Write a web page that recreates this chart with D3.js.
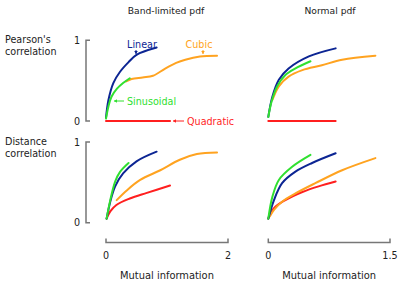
<!DOCTYPE html>
<html><head><meta charset="utf-8">
<script src="https://cdn.jsdelivr.net/npm/d3@7"></script>
<style>body{margin:0;background:#fff}svg{display:block}text{font-family:"DejaVu Sans",Verdana,sans-serif;font-size:9.6px;fill:#222}</style>
</head><body>
<script>
const colTitles = ["Band-limited pdf", "Normal pdf"];
const rowTitles = [["Pearson's", "correlation"], ["Distance", "correlation"]];
const xMaxes = [2, 1.5];
const xTickLabels = [["0", "2"], ["0", "1.5"]];
const yTickLabels = ["0", "1"];
const seriesNames = ["Linear", "Cubic", "Sinusoidal", "Quadratic"];
const seriesColors = ["#0c2593", "#ffa320", "#30e030", "#ff1f1f"];

// series -> [[mutual information, correlation], ...]
const pearsonBand = {
  Linear: [[0,0.04],[0.04,0.26],[0.12,0.47],[0.23,0.61],[0.37,0.73],[0.5,0.82],[0.83,0.91]],
  Cubic: [[0.33,0.49],[0.42,0.52],[0.6,0.54],[0.77,0.56],[0.97,0.65],[1.15,0.72],[1.3,0.76],[1.54,0.8],[1.82,0.81]],
  Sinusoidal: [[0,0.03],[0.04,0.18],[0.09,0.3],[0.18,0.4],[0.28,0.47],[0.39,0.53]],
  Quadratic: [[0,0],[1.05,0]]
};
const pearsonNormal = {
  Linear: [[0,0.05],[0.05,0.3],[0.13,0.51],[0.25,0.65],[0.5,0.8],[0.83,0.9]],
  Cubic: [[0.05,0.26],[0.13,0.43],[0.25,0.55],[0.42,0.63],[0.66,0.69],[0.91,0.76],[1.32,0.81]],
  Sinusoidal: [[0,0.05],[0.04,0.24],[0.11,0.43],[0.21,0.57],[0.33,0.65],[0.52,0.74]],
  Quadratic: [[0,0],[0.83,0]]
};
const distanceBand = {
  Linear: [[0.01,0.05],[0.07,0.26],[0.15,0.45],[0.28,0.61],[0.5,0.76],[0.83,0.88]],
  Cubic: [[0.175,0.28],[0.34,0.4],[0.56,0.53],[0.89,0.65],[1.21,0.78],[1.49,0.85],[1.82,0.87]],
  Sinusoidal: [[0.01,0.05],[0.07,0.28],[0.15,0.51],[0.23,0.63],[0.37,0.74]],
  Quadratic: [[0.01,0.05],[0.07,0.14],[0.17,0.22],[0.39,0.3],[0.67,0.37],[1.05,0.46]]
};
const distanceNormal = {
  Linear: [[0,0.05],[0.07,0.28],[0.17,0.49],[0.33,0.63],[0.54,0.74],[0.83,0.86]],
  Cubic: [[0.02,0.08],[0.07,0.16],[0.17,0.26],[0.33,0.36],[0.58,0.49],[0.91,0.65],[1.32,0.8]],
  Sinusoidal: [[0,0.05],[0.05,0.32],[0.13,0.53],[0.29,0.69],[0.52,0.84]],
  Quadratic: [[0,0.05],[0.07,0.18],[0.21,0.28],[0.42,0.38],[0.62,0.45],[0.83,0.51]]
};
const panels = [[pearsonBand, pearsonNormal],[distanceBand, distanceNormal]];
const drawOrder = ["Quadratic","Cubic","Linear","Sinusoidal"];

const W = 415, H = 284;
const svg = d3.select("body").append("svg").attr("width", W).attr("height", H);

const xRanges = [[106, 228], [268.3, 390]];
const yRanges = [[121, 40.3], [222.7, 142]];
const xs = xRanges.map((r,i) => d3.scaleLinear().domain([0, xMaxes[i]]).range(r));
const ys = yRanges.map(r => d3.scaleLinear().domain([0, 1]).range(r));
const color = d3.scaleOrdinal().domain(seriesNames).range(seriesColors);

colTitles.forEach((t,i) => {
  svg.append("text").attr("x", i===0 ? 166 : 330).attr("y", 14)
    .attr("text-anchor","middle").style("font-size","9.2px").text(t);
});
rowTitles.forEach((lines, r) => {
  lines.forEach((l, k) => {
    svg.append("text").attr("x", 5).attr("y", ys[r](1) + 3 + k*12).text(l);
  });
});

ys.forEach((y, r) => {
  const g = svg.append("g").attr("transform", "translate(86,0)");
  g.call(d3.axisRight(y).tickValues([0,1]).tickSize(4).tickFormat(""));
  g.select(".domain").attr("stroke","#777").attr("stroke-width",1.5)
    .attr("d", `M4,${y(1)}H0V${y(0)}H4`);
  g.selectAll(".tick line").remove();
  yTickLabels.forEach((lab, k) => {
    svg.append("text").attr("x", 80).attr("y", y(k) + 3.5).attr("text-anchor","end").text(lab);
  });
});

xs.forEach((x, c) => {
  const g = svg.append("g").attr("transform", "translate(0,242.5)");
  g.call(d3.axisTop(x).tickValues([0, xMaxes[c]]).tickSize(4).tickFormat(""));
  g.select(".domain").attr("stroke","#777").attr("stroke-width",1.5)
    .attr("d", `M${x(0)},-4V0H${x(xMaxes[c])}V-4`);
  g.selectAll(".tick line").remove();
  xTickLabels[c].forEach((lab,k) => {
    svg.append("text").attr("x", x(k===0?0:xMaxes[c])).attr("y", 259).attr("text-anchor","middle").text(lab);
  });
  svg.append("text").attr("x", (xRanges[c][0]+xRanges[c][1])/2).attr("y", 279)
    .attr("text-anchor","middle").style("font-size","9.9px").text("Mutual information");
});

const line = (x,y) => d3.line().x(d => x(d[0])).y(d => y(d[1])).curve(d3.curveCatmullRom.alpha(0.5));
panels.forEach((row, r) => row.forEach((data, c) => {
  drawOrder.forEach(name => {
    svg.append("path").datum(data[name]).attr("d", line(xs[c], ys[r]))
      .attr("fill","none").attr("stroke", color(name)).attr("stroke-width", 2)
      .attr("stroke-linecap","round");
  });
}));

function arrow(x1,y1,x2,y2,col){
  svg.append("line").attr("x1",x1).attr("y1",y1).attr("x2",x2).attr("y2",y2)
    .attr("stroke",col).attr("stroke-width",1);
  const a = Math.atan2(y2-y1,x2-x1), L=3, w=1.8;
  const p = [[x2,y2],[x2-L*Math.cos(a)+w*Math.sin(a), y2-L*Math.sin(a)-w*Math.cos(a)],
             [x2-L*Math.cos(a)-w*Math.sin(a), y2-L*Math.sin(a)+w*Math.cos(a)]];
  svg.append("path").attr("d", d3.line()(p)+"Z").attr("fill",col);
}
svg.append("text").attr("x", 142).attr("y", 48).attr("text-anchor","middle")
  .style("fill", color("Linear")).text("Linear");
arrow(136, 50, 136, 54, color("Linear"));
svg.append("text").attr("x", 199).attr("y", 48).attr("text-anchor","middle")
  .style("fill", color("Cubic")).text("Cubic");
arrow(203, 50, 203, 54, color("Cubic"));
arrow(124, 101, 114, 101, color("Sinusoidal"));
svg.append("text").attr("x", 127).attr("y", 104.5)
  .style("fill", color("Sinusoidal")).text("Sinusoidal");
arrow(184, 121, 173, 121, color("Quadratic"));
svg.append("text").attr("x", 187).attr("y", 124.5)
  .style("fill", color("Quadratic")).text("Quadratic");
</script>
</body></html>
